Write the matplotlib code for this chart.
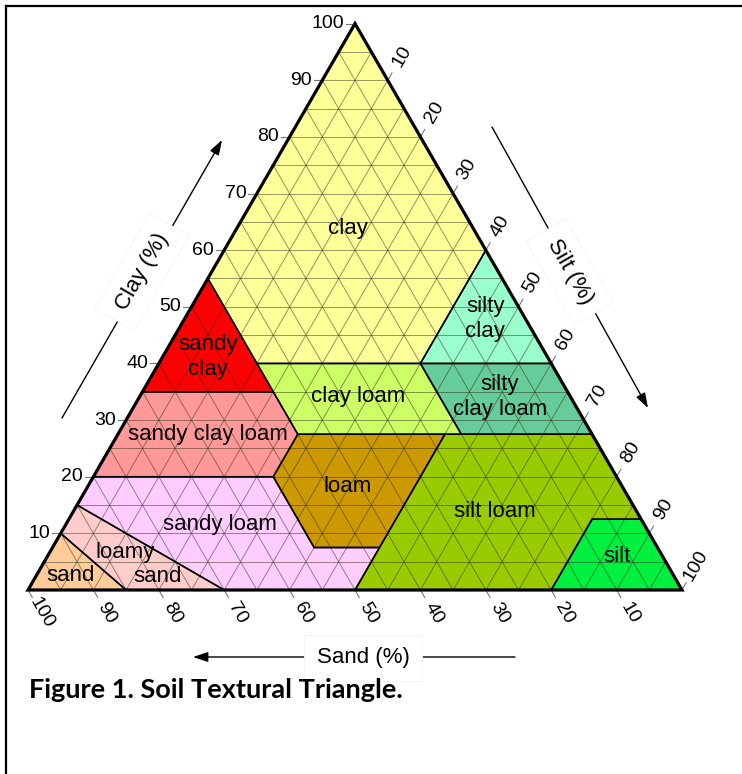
import numpy as np
import matplotlib
matplotlib.use("Agg")
import matplotlib.pyplot as plt
from matplotlib.patches import Polygon
from matplotlib.lines import Line2D

# ---------------- data: USDA texture classes, vertices as (sand, silt, clay) % ----------------
class_names = ["clay", "sandy clay", "silty clay", "sandy clay loam", "clay loam",
               "silty clay loam", "loam", "silt loam", "silt", "sandy loam",
               "loamy sand", "sand"]
class_vertices = [
    [(0, 0, 100), (45, 0, 55), (45, 15, 40), (20, 40, 40), (0, 40, 60)],
    [(45, 0, 55), (65, 0, 35), (45, 20, 35)],
    [(0, 40, 60), (20, 40, 40), (0, 60, 40)],
    [(65, 0, 35), (45, 20, 35), (45, 27.5, 27.5), (52.5, 27.5, 20), (80, 0, 20)],
    [(45, 15, 40), (20, 40, 40), (20, 52.5, 27.5), (45, 27.5, 27.5)],
    [(20, 40, 40), (0, 60, 40), (0, 72.5, 27.5), (20, 52.5, 27.5)],
    [(45, 27.5, 27.5), (22.5, 50, 27.5), (42.5, 50, 7.5), (52.5, 40, 7.5), (52.5, 27.5, 20)],
    [(22.5, 50, 27.5), (0, 72.5, 27.5), (0, 87.5, 12.5), (7.5, 80, 12.5), (20, 80, 0),
     (50, 50, 0), (42.5, 50, 7.5)],
    [(20, 80, 0), (0, 100, 0), (0, 87.5, 12.5), (7.5, 80, 12.5)],
    [(80, 0, 20), (52.5, 27.5, 20), (52.5, 40, 7.5), (42.5, 50, 7.5), (50, 50, 0),
     (70, 30, 0), (85, 0, 15)],
    [(85, 0, 15), (70, 30, 0), (85, 15, 0), (90, 0, 10)],
    [(90, 0, 10), (85, 15, 0), (100, 0, 0)],
]
class_colors = ["#FFFF99", "#FF0000", "#99FFCC", "#FF9999", "#CCFF66", "#66CC99",
                "#CC9900", "#99CC00", "#00F040", "#FFCCFF", "#FFCCCC", "#FFCC99"]

# label texts and their (silt, clay) anchor
label_texts = ["clay", "sandy\nclay", "silty\nclay", "sandy clay loam", "clay loam",
               "silty\nclay loam", "loam", "silt loam", "silt", "sandy loam",
               "loamy", "sand", "sand"]
label_anchor = [(17.0, 63.9), (7.0, 41.1), (46.0, 47.8), (13.8, 27.4), (33.4, 34.1),
                (55.1, 34.1), (39.8, 18.2), (64.5, 13.8), (87.1, 6.0), (23.6, 11.5),
                (11.5, 6.7), (18.6, 2.3), (5.3, 2.5)]

tick_values = [10, 20, 30, 40, 50, 60, 70, 80, 90, 100]
grid_step = 5

# ---------------- helpers ----------------
S3 = np.sqrt(3) / 2


def tern(silt, clay):
    return silt + clay / 2.0, clay * S3


PX = 6.54  # pixels per percent unit
fig = plt.figure(figsize=(7.42, 7.74), dpi=100)
ax = fig.add_axes([0, 0, 1, 1])
ax.set_xlim(-28 / PX, (742 - 28) / PX)
ax.set_ylim(-(774 - 590) / PX, 590 / PX)
ax.axis("off")

FONT = "Liberation Sans"

# class fills
for verts, col in zip(class_vertices, class_colors):
    pts = [tern(si, cl) for (sa, si, cl) in verts]
    ax.add_patch(Polygon(pts, closed=True, facecolor=col, edgecolor="none", zorder=1))

# grid every 5 %
gkw = dict(color="#333318", alpha=0.55, lw=0.65, zorder=2)
for v in np.arange(grid_step, 100, grid_step):
    x0, y0 = tern(0, v); x1, y1 = tern(100 - v, v)
    ax.plot([x0, x1], [y0, y1], **gkw)
    x0, y0 = tern(v, 0); x1, y1 = tern(v, 100 - v)
    ax.plot([x0, x1], [y0, y1], **gkw)
    x0, y0 = tern(100 - v, 0); x1, y1 = tern(0, 100 - v)
    ax.plot([x0, x1], [y0, y1], **gkw)

# class boundaries
for verts in class_vertices:
    pts = [tern(si, cl) for (sa, si, cl) in verts]
    ax.add_patch(Polygon(pts, closed=True, facecolor="none", edgecolor="black",
                         lw=1.1, zorder=3, joinstyle="miter"))

# outer triangle
tri = [tern(0, 0), tern(100, 0), tern(0, 100)]
ax.add_patch(Polygon(tri, closed=True, facecolor="none", edgecolor="black", lw=2.3,
                     zorder=4, joinstyle="miter"))

# ticks and tick labels
tl = 1.3
TFS = 14
tkw = dict(color="#777777", lw=0.8, zorder=0.5)
d_up = np.array([0.5, S3])
d_dn = np.array([0.5, -S3])
for v in tick_values:
    # clay (left side)
    x, y = tern(0, v)
    ax.plot([x - tl, x], [y, y], **tkw)
    ax.text(x - 1.6, y, str(v), ha="right", va="center", fontsize=TFS, family=FONT)
    # silt (right side)
    x, y = tern(v, 100 - v)
    ax.plot([x, x + tl * d_up[0]], [y, y + tl * d_up[1]], **tkw)
    lx, ly = np.array([x, y]) + 4.3 * d_up
    ax.text(lx, ly, str(v), ha="center", va="center", rotation=60, fontsize=TFS,
            family=FONT, rotation_mode="anchor")
    # sand (bottom)
    x, y = tern(100 - v, 0)
    ax.plot([x, x + tl * d_dn[0]], [y, y + tl * d_dn[1]], **tkw)
    lx, ly = np.array([x, y]) + 4.1 * d_dn
    ax.text(lx, ly, str(v), ha="center", va="center", rotation=-60, fontsize=TFS,
            family=FONT, rotation_mode="anchor")

# class labels
for txt, (si, cl) in zip(label_texts, label_anchor):
    x, y = tern(si, cl)
    ax.text(x, y, txt, ha="center", va="center", fontsize=16, family=FONT,
            linespacing=1.25, zorder=5)

# axis titles with arrows
akw = dict(arrowstyle="-|>,head_length=0.9,head_width=0.3", color="black", lw=1.0,
           shrinkA=0, shrinkB=0)
bb = dict(boxstyle="square,pad=0.55", facecolor="white", edgecolor="#f4f4f4", lw=0.6)


def pxd(px, py):
    return (px - 28) / PX, (590 - py) / PX


ax.annotate("", xy=pxd(222, 140), xytext=pxd(62, 418), arrowprops=akw, zorder=5)
ax.text(*pxd(142, 272), "Clay (%)", rotation=60, ha="center", va="center",
        fontsize=16, family=FONT, bbox=bb, zorder=6, rotation_mode="anchor")
ax.annotate("", xy=pxd(648, 408), xytext=pxd(492, 127), arrowprops=akw, zorder=5)
ax.text(*pxd(570, 272), "Silt (%)", rotation=-60, ha="center", va="center",
        fontsize=16, family=FONT, bbox=bb, zorder=6, rotation_mode="anchor")
ax.annotate("", xy=pxd(193, 657), xytext=pxd(515, 657), arrowprops=akw, zorder=5)
ax.text(*pxd(363, 658), "Sand (%)", ha="center", va="center",
        fontsize=16, family=FONT, bbox=bb, zorder=6)

# caption
fig.text(29 / 742, 1 - 690 / 774, "Figure 1. Soil Textural Triangle.", ha="left",
         va="center", fontsize=19.5, fontweight="bold", family="Lato")

# frame (top and left edges)
fig.add_artist(Line2D([6 / 742, 1.0], [1 - 6 / 774, 1 - 6 / 774], color="black", lw=1.6,
                      transform=fig.transFigure))
fig.add_artist(Line2D([6 / 742, 6 / 742], [0, 1 - 6 / 774], color="black", lw=1.6,
                      transform=fig.transFigure))

fig.savefig("out.png", dpi=100)
